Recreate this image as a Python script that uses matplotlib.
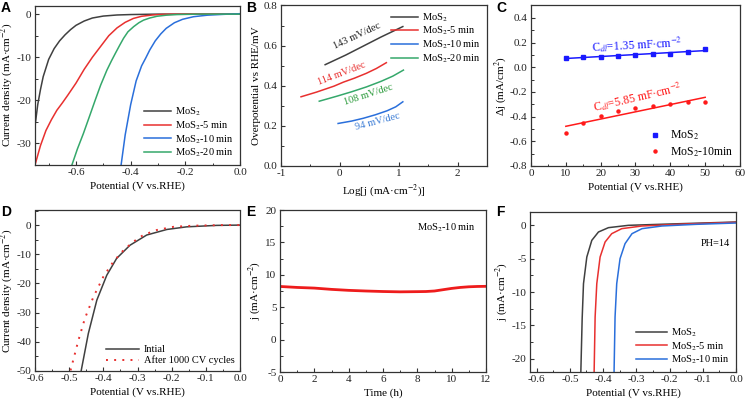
import numpy as np
import matplotlib
matplotlib.use("Agg")
import matplotlib.pyplot as plt
from matplotlib.ticker import MultipleLocator

plt.rcParams['font.family'] = ['Liberation Serif', 'DejaVu Serif']
plt.rcParams['mathtext.fontset'] = 'stix'
plt.rcParams['font.size'] = 8
plt.rcParams['axes.unicode_minus'] = False
plt.rcParams['axes.linewidth'] = 0.9
plt.rcParams['axes.edgecolor'] = '#333333'

K = '#404040'
R = '#e8302f'
B = '#2a6fdb'
G = '#35a86b'

# ---- A: LSV curves
a_x_mos2 = [-0.75, -0.74, -0.73, -0.72, -0.70, -0.68, -0.66, -0.64, -0.62, -0.60, -0.57,
            -0.54, -0.50, -0.45, -0.40, -0.30, -0.20, -0.10, 0.0]
a_y_mos2 = [-26, -21, -17.5, -14.5, -10.5, -8.0, -6.2, -4.8, -3.6, -2.6, -1.6,
            -0.9, -0.45, -0.2, -0.1, 0, 0, 0, 0]
a_x_5 = [-0.75, -0.73, -0.71, -0.69, -0.67, -0.65, -0.63, -0.60, -0.57, -0.54, -0.51,
         -0.48, -0.45, -0.42, -0.39, -0.36, -0.32, -0.28, -0.2, -0.1, 0.0]
a_y_5 = [-35, -30.5, -27, -24.5, -22.3, -20.6, -18.8, -16, -12.8, -10.0, -7.5,
         -5.0, -3.2, -1.9, -1.0, -0.5, -0.2, -0.05, 0, 0, 0]
a_x_10 = [-0.435, -0.42, -0.40, -0.38, -0.36, -0.345, -0.33, -0.31, -0.29, -0.27,
          -0.24, -0.21, -0.17, -0.12, -0.06, 0.0]
a_y_10 = [-35, -28, -21, -15.5, -12, -10.2, -8.3, -6.2, -4.6, -3.3,
          -2.0, -1.2, -0.6, -0.25, -0.05, 0.1]
a_x_20 = [-0.615, -0.595, -0.573, -0.55, -0.53, -0.51, -0.487, -0.47, -0.456, -0.44,
          -0.426, -0.41, -0.389, -0.37, -0.353, -0.33, -0.304, -0.27, -0.23, -0.15, 0.0]
a_y_20 = [-35, -31.3, -27.7, -23.6, -20, -16.5, -13, -10.8, -9.1, -7.2,
          -5.6, -4.1, -2.9, -2.0, -1.4, -0.9, -0.5, -0.25, -0.1, 0, 0]

# ---- B: Tafel
b_x_mos2 = [-0.25, 0.1, 0.4, 0.7, 1.07]
b_y_mos2 = [0.505, 0.553, 0.598, 0.643, 0.695]
b_x_5 = [-0.66, -0.4, -0.1, 0.06, 0.25, 0.45, 0.62, 0.79]
b_y_5 = [0.345, 0.368, 0.398, 0.418, 0.438, 0.462, 0.486, 0.515]
b_x_10 = [-0.03, 0.2, 0.4, 0.6, 0.8, 0.95, 1.07]
b_y_10 = [0.212, 0.224, 0.238, 0.255, 0.275, 0.295, 0.32]
b_x_20 = [-0.35, -0.05, 0.2, 0.45, 0.7, 0.9, 1.08]
b_y_20 = [0.323, 0.348, 0.37, 0.394, 0.422, 0.448, 0.478]

# ---- C: Cdl
c_scan = [10, 15, 20, 25, 30, 35, 40, 45, 50]
c_mos2 = [0.075, 0.08, 0.085, 0.095, 0.10, 0.11, 0.11, 0.125, 0.145]
c_mos2_10 = [-0.535, -0.455, -0.395, -0.355, -0.33, -0.315, -0.30, -0.285, -0.28]

# ---- D: stability LSV
d_x_init = [-0.465, -0.444, -0.419, -0.39, -0.361, -0.322, -0.273, -0.214, -0.156, -0.068, 0.0]
d_y_init = [-50, -37.2, -25.7, -17.2, -11.4, -6.9, -3.4, -1.5, -0.6, -0.1, 0]
d_x_cv = [-0.496, -0.473, -0.454, -0.429, -0.40, -0.371, -0.341, -0.312, -0.283,
          -0.244, -0.195, -0.136, -0.05, 0.0]
d_y_cv = [-49.8, -39.5, -32, -24.6, -17.7, -12.6, -8.6, -5.7, -3.4,
          -1.7, -0.6, -0.2, 0, 0]

# ---- E: chronoamperometry
e_t = [0, 1, 2, 3, 4, 5, 6, 7, 8, 8.5, 9, 9.5, 10, 10.5, 11, 11.5, 12]
e_j = [8.2, 8.05, 7.95, 7.75, 7.6, 7.5, 7.42, 7.37, 7.4, 7.42, 7.5, 7.7, 7.9, 8.05, 8.15, 8.2, 8.22]

# ---- F: pH 14 LSV
f_x_mos2 = [-0.467, -0.463, -0.459, -0.449, -0.434, -0.414, -0.384, -0.324, -0.2, -0.1, 0.0]
f_y_mos2 = [-22, -14, -8.75, -4.75, -2.25, -1.0, -0.35, 0.0, 0.2, 0.35, 0.5]
f_x_5 = [-0.427, -0.424, -0.419, -0.409, -0.394, -0.374, -0.344, -0.283, -0.15, 0.0]
f_y_5 = [-22, -13.75, -8.75, -4.75, -2.5, -1.25, -0.5, -0.1, 0.2, 0.45]
f_x_10 = [-0.367, -0.364, -0.359, -0.349, -0.334, -0.313, -0.283, -0.223, -0.12, 0.0]
f_y_10 = [-22, -13.75, -8.75, -5.0, -2.75, -1.25, -0.5, -0.1, 0.15, 0.35]

W, H = 747, 407
fig = plt.figure(figsize=(W / 100, H / 100), dpi=100)


def box(l, t, r, b):
    ax = fig.add_axes([l / W, 1 - b / H, (r - l) / W, (b - t) / H])
    ax.tick_params(which='both', direction='in', top=False, right=False,
                   colors='#333333', labelcolor='#222222', pad=2.5, labelsize=8)
    ax.tick_params(which='major', length=3, width=0.8)
    ax.tick_params(which='minor', length=1.8, width=0.7)
    return ax


def letter(x, y, s):
    fig.text(x / W, 1 - y / H, s, family='Liberation Sans', weight='bold',
             fontsize=10, va='top', ha='left')


lab = dict(fontsize=8)
mos2 = 'MoS$_2$'
leg = dict(frameon=False, fontsize=7.5, labelspacing=0.12, borderaxespad=0.15,
           handletextpad=0.4)

# A
ax = box(35, 5.5, 240, 165)
ax.plot(a_x_mos2, a_y_mos2, color=K, lw=1.1, label=mos2)
ax.plot(a_x_5, a_y_5, color=R, lw=1.1, label=mos2 + '-5 min')
ax.plot(a_x_10, a_y_10, color=B, lw=1.1, label=mos2 + '-10 min')
ax.plot(a_x_20, a_y_20, color=G, lw=1.1, label=mos2 + '-20 min')
ax.set_xlim(-0.75, 0)
ax.set_ylim(-35, 2)
ax.xaxis.set_major_locator(MultipleLocator(0.2))
ax.xaxis.set_minor_locator(MultipleLocator(0.1))
ax.yaxis.set_major_locator(MultipleLocator(10))
ax.yaxis.set_minor_locator(MultipleLocator(5))
ax.set_xlabel('Potential (V vs.RHE)', labelpad=3, **lab)
ax.set_ylabel('Current density (mA·cm$^{-2}$)', labelpad=1, **lab)
ax.legend(loc='lower right', handlelength=2.6, **leg)
letter(1, 1, 'A')

# B
ax = box(281, 5.5, 487, 166)
ax.plot(b_x_mos2, b_y_mos2, color=K, lw=1.1, label=mos2)
ax.plot(b_x_5, b_y_5, color=R, lw=1.1, label=mos2 + '-5 min')
ax.plot(b_x_10, b_y_10, color=B, lw=1.1, label=mos2 + '-10 min')
ax.plot(b_x_20, b_y_20, color=G, lw=1.1, label=mos2 + '-20 min')
ax.text(0.29, 0.648, '143 mV/dec', color='#222222', rotation=25, ha='center', va='center', fontsize=7.5)
ax.text(0.03, 0.462, '114 mV/dec', color=R, rotation=21, ha='center', va='center', fontsize=7.5)
ax.text(0.49, 0.355, '108 mV/dec', color='#2a9a3a', rotation=18, ha='center', va='center', fontsize=7.5)
ax.text(0.64, 0.222, '94 mV/dec', color='#3a7bd5', rotation=15, ha='center', va='center', fontsize=7.5)
ax.set_xlim(-1, 2.5)
ax.set_ylim(0, 0.8)
ax.xaxis.set_major_locator(MultipleLocator(1))
ax.xaxis.set_minor_locator(MultipleLocator(0.5))
ax.yaxis.set_major_locator(MultipleLocator(0.2))
ax.yaxis.set_minor_locator(MultipleLocator(0.1))
ax.set_xlabel('Log[j (mA·cm$^{-2}$)]', labelpad=3, **lab)
ax.set_ylabel('Overpotential vs RHE/mV', labelpad=2, **lab)
ax.legend(loc='upper right', handlelength=2.6, **leg)
letter(246, 1, 'B')

# C
ax = box(531, 5.5, 740, 166)
xs = np.array(c_scan, dtype=float)
p1 = np.polyfit(xs, c_mos2, 1)
p2 = np.polyfit(xs, c_mos2_10, 1)
ax.plot(xs, np.polyval(p1, xs), color='#1a1aff', lw=1.1)
ax.plot(xs, np.polyval(p2, xs), color='#ff1a1a', lw=1.1)
ax.plot(xs, c_mos2, 's', color='#1a1aff', ms=2.2, label=mos2)
ax.plot(xs, c_mos2_10, 'o', color='#ff1a1a', ms=2.2, label=mos2 + '-10min')
ax.text(30.5, 0.185, 'C$_{dl}$=1.35 mF·cm$^{-2}$', color='#1a1aff', rotation=3,
        ha='center', va='center', fontsize=8.5)
ax.text(30.5, -0.245, 'C$_{dl}$=5.85 mF·cm$^{-2}$', color='#ff1a1a', rotation=13,
        ha='center', va='center', fontsize=8.5)
ax.set_xlim(0, 60)
ax.set_ylim(-0.8, 0.5)
ax.xaxis.set_major_locator(MultipleLocator(10))
ax.xaxis.set_minor_locator(MultipleLocator(5))
ax.yaxis.set_minor_locator(MultipleLocator(0.1))
ax.set_yticks(np.round(np.arange(-0.8, 0.41, 0.2), 1))
ax.set_xlabel('Potential (V vs.RHE)', labelpad=3, **lab)
ax.set_ylabel('Δj (mA/cm$^2$)', labelpad=1, **lab)
ax.legend(loc='lower right', frameon=False, fontsize=8.5, handlelength=1.2,
          labelspacing=0.25, borderaxespad=0.2, handletextpad=0.6)
letter(496, 1, 'C')

# D
ax = box(35, 210.5, 240, 371)
ax.plot(d_x_init, d_y_init, color=K, lw=1.1, label='Intial')
ax.plot(d_x_cv, d_y_cv, color=R, lw=1.4, ls=(0, (1, 3.2)), label='After 1000 CV cycles')
ax.set_xlim(-0.6, 0)
ax.set_ylim(-50, 5)
ax.xaxis.set_major_locator(MultipleLocator(0.1))
ax.xaxis.set_minor_locator(MultipleLocator(0.05))
ax.yaxis.set_major_locator(MultipleLocator(10))
ax.yaxis.set_minor_locator(MultipleLocator(5))
ax.set_xlabel('Potential (V vs.RHE)', labelpad=3, **lab)
ax.set_ylabel('Current density (mA·cm$^{-2}$)', labelpad=1, **lab)
ax.legend(loc='lower right', handlelength=3.2, **leg)
letter(1, 205, 'D')

# E
ax = box(280, 210, 486, 372)
ax.plot(e_t, e_j, color='#ee1c1c', lw=2.0)
ax.text(0.95, 0.93, mos2 + '-10 min', transform=ax.transAxes, ha='right', va='top', fontsize=7.5)
ax.set_xlim(0, 12)
ax.set_ylim(-5, 20)
ax.xaxis.set_major_locator(MultipleLocator(2))
ax.xaxis.set_minor_locator(MultipleLocator(1))
ax.yaxis.set_major_locator(MultipleLocator(5))
ax.yaxis.set_minor_locator(MultipleLocator(2.5))
ax.set_xlabel('Time (h)', labelpad=3, **lab)
ax.set_ylabel('j (mA·cm$^{-2}$)', labelpad=2, **lab)
letter(246, 205, 'E')

# F
ax = box(530, 212, 736, 372)
ax.plot(f_x_mos2, f_y_mos2, color=K, lw=1.1, label=mos2)
ax.plot(f_x_5, f_y_5, color=R, lw=1.1, label=mos2 + '-5 min')
ax.plot(f_x_10, f_y_10, color=B, lw=1.1, label=mos2 + '-10 min')
ax.text(0.97, 0.83, 'PH=14', transform=ax.transAxes, ha='right', va='top', fontsize=7.5)
ax.set_xlim(-0.62, 0)
ax.set_ylim(-22, 2)
ax.xaxis.set_major_locator(MultipleLocator(0.1))
ax.xaxis.set_minor_locator(MultipleLocator(0.05))
ax.yaxis.set_major_locator(MultipleLocator(5))
ax.yaxis.set_minor_locator(MultipleLocator(2.5))
ax.set_xlabel('Potential (V vs.RHE)', labelpad=3, **lab)
ax.set_ylabel('j (mA·cm$^{-2}$)', labelpad=1, **lab)
ax.legend(loc='lower right', handlelength=3.0, **leg)
letter(496, 205, 'F')

fig.savefig('out.png', dpi=100)
